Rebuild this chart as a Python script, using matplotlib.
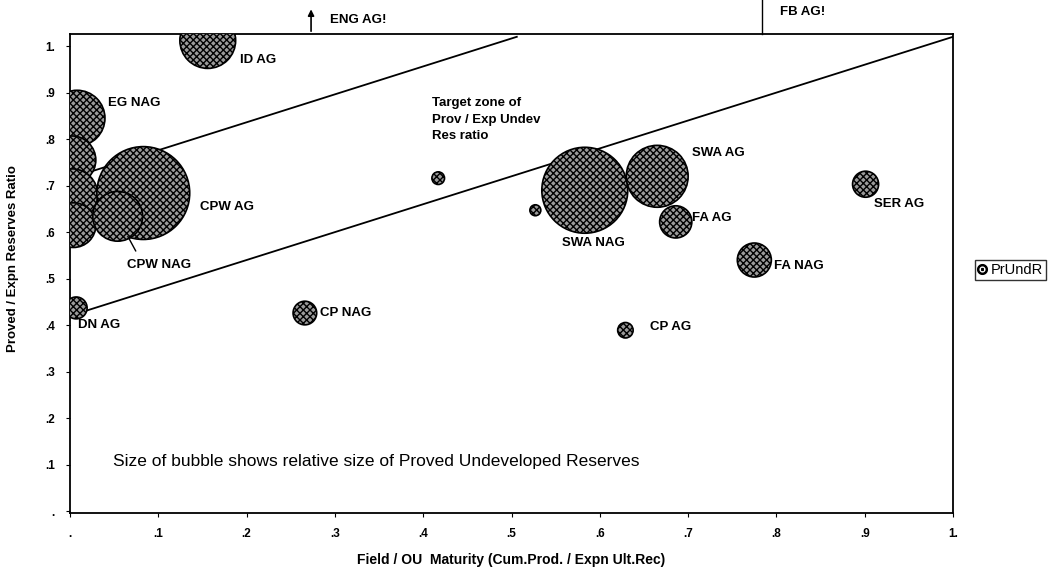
import numpy as np
import matplotlib
matplotlib.use("Agg")
import matplotlib.pyplot as plt
from matplotlib.lines import Line2D

plt.rcParams['font.family'] = ['Liberation Sans', 'DejaVu Sans']
plt.rcParams['hatch.linewidth'] = 1.0

# bubble data: field / OU maturity, proved / expn reserves ratio, proved undeveloped reserves
names = ['ID AG', 'EG NAG', '', '', '', 'DN AG', 'CPW AG', 'CPW NAG', 'CP NAG',
         '', '', 'CP AG', 'SWA NAG', 'SWA AG', 'FA AG', 'FA NAG', 'SER AG']
maturity = [0.156, 0.008, 0.002, 0.002, 0.004, 0.007, 0.083, 0.054, 0.266,
            0.417, 0.527, 0.629, 0.583, 0.665, 0.686, 0.775, 0.901]
ratio = [1.012, 0.845, 0.755, 0.680, 0.615, 0.437, 0.684, 0.634, 0.426,
         0.716, 0.647, 0.389, 0.690, 0.720, 0.622, 0.540, 0.703]
pr_und = [78, 78, 58, 68, 50, 12, 216, 62, 14,
          4, 3, 6, 185, 96, 26, 29, 17]

# label offsets (points) relative to each bubble centre
label_dx = [23, 22, 0, 0, 0, 1, 41, 7, 11, 0, 0, 18, 6, 25, 12, 14, 6]
label_dy = [-14, 11, 0, 0, 0, -12, -10, -35, 0, 0, 0, 2, -38, 17, 3, -4, -14]

tick_vals = [0, .1, .2, .3, .4, .5, .6, .7, .8, .9, 1.0]
tick_text = ['.', '.1', '.2', '.3', '.4', '.5', '.6', '.7', '.8', '.9', '1.']

# target zone boundaries (slope 0.6)
zone_x = [0, 1]
zone_low = [0.42, 1.02]
zone_up_x = [0, 0.506]
zone_up = [0.716, 1.02]

fig = plt.figure(figsize=(10.54, 5.70), dpi=100)
ax = fig.add_axes([70/1054, 1 - 513/570, 883/1054, 479/570])
ax.set_xlim(0, 1)
ax.set_ylim(-0.004, 1.026)

ax.plot(zone_x, zone_low, color='black', lw=1.3, zorder=2)
ax.plot(zone_up_x, zone_up, color='black', lw=1.3, zorder=2)

sizes = np.array(pr_und) * 20.7
sc = ax.scatter(maturity, ratio, s=sizes, facecolor='#9a9a9a', edgecolor='black',
                hatch='xxxxx', linewidth=1.2, zorder=3, label='PrUndR')

for n, x, y, dx, dy in zip(names, maturity, ratio, label_dx, label_dy):
    if not n:
        continue
    ha = 'center' if n == 'SWA NAG' else 'left'
    ax.annotate(n, (x, y), xytext=(dx, dy), textcoords='offset points',
                ha=ha, va='center', fontsize=9.5, fontweight='bold', zorder=5)

# leader line for CPW NAG
ax.annotate('', (0.064, 0.596), xytext=(0.076, 0.554),
            arrowprops=dict(arrowstyle='-', color='black', lw=1.0), zorder=5)

ax.text(0.41, 0.89, 'Target zone of\nProv / Exp Undev\nRes ratio', fontsize=9.5,
        fontweight='bold', va='top', ha='left', linespacing=1.5)
ax.text(0.049, 0.106, 'Size of bubble shows relative size of Proved Undeveloped Reserves',
        fontsize=12.5, va='center', ha='left')

# off-scale points above the chart
ax.annotate('', (0.273, 1.085), xytext=(0.273, 1.026),
            arrowprops=dict(arrowstyle='-|>', color='black', lw=1.2, mutation_scale=9),
            annotation_clip=False)
ax.text(0.294, 1.056, 'ENG AG!', fontsize=9.5, fontweight='bold', va='center',
        clip_on=False)
ax.plot([0.784, 0.784], [1.026, 1.11], color='black', lw=1.0, clip_on=False)
ax.text(0.804, 1.073, 'FB AG!', fontsize=9.5, fontweight='bold', va='center',
        clip_on=False)

ax.set_xticks(tick_vals)
ax.set_xticklabels(tick_text)
ax.set_yticks(tick_vals)
ax.set_yticklabels(tick_text)
ax.tick_params(direction='out', length=3, width=0.8, labelsize=8.5, pad=8)
for lab in ax.get_xticklabels() + ax.get_yticklabels():
    lab.set_fontweight('bold')
for sp in ax.spines.values():
    sp.set_linewidth(1.3)

ax.set_xlabel('Field / OU  Maturity (Cum.Prod. / Expn Ult.Rec)', fontsize=10,
              fontweight='bold', labelpad=9)
ax.set_ylabel('Proved / Expn Reserves Ratio', fontsize=9.5, fontweight='bold')
ax.yaxis.set_label_coords(-0.058, 0.532)

handle = Line2D([], [], marker=r'$\odot$', color='black', lw=0, markersize=7)
fig.legend([handle], ['PrUndR'], loc='center left', bbox_to_anchor=(975/1054, 1 - 270/570),
           frameon=True, fancybox=False, edgecolor='black', fontsize=10.5,
           handlelength=0.6, handletextpad=0.3, borderpad=0.2, borderaxespad=0)

fig.savefig('out.png', dpi=100)
